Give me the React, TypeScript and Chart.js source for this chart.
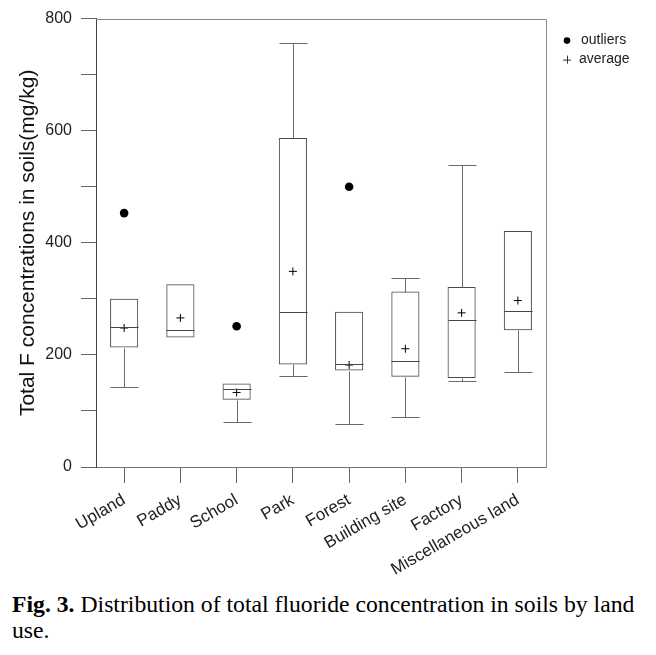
import React, { useEffect, useRef } from "react";
import { Chart, registerables } from "chart.js";

Chart.register(...registerables);

const categories = ["Upland", "Paddy", "School", "Park", "Forest", "Building site", "Factory", "Miscellaneous land"];
const whiskerMin = [142, 231, 81, 163, 76, 90, 153, 169];
const quartile1 = [213, 231, 120, 183, 172, 161, 159, 244];
const medians = [249, 245, 140, 276, 184, 190, 263, 278];
const quartile3 = [300, 326, 149, 587, 277, 313, 321, 421];
const whiskerMax = [300, 326, 149, 757, 277, 337, 538, 421];
const averages = [248, 266, 133, 349, 182, 211, 275, 297];
const outliers = [453, null, 251, null, 500, null, null, null];
const yTickValues = [0, 200, 400, 600, 800];
const legendLabels = ["outliers", "average"];

const SANS = "'Liberation Sans', Arial, sans-serif";

const boxPlugin = {
  id: "boxExtras",
  afterDatasetsDraw(chart: any) {
    const ctx = chart.ctx;
    const xs = chart.scales.x;
    const ys = chart.scales.y;
    const meta = chart.getDatasetMeta(0);
    ctx.save();
    ctx.lineWidth = 1;
    categories.forEach((_, i) => {
      const el = meta.data[i];
      const x = Math.round(xs.getPixelForValue(i)) + 0.5;
      const hw = el.width / 2;
      const yMin = Math.round(ys.getPixelForValue(whiskerMin[i])) + 0.5;
      const yQ1 = Math.round(ys.getPixelForValue(quartile1[i])) + 0.5;
      const yQ3 = Math.round(ys.getPixelForValue(quartile3[i])) + 0.5;
      const yMax = Math.round(ys.getPixelForValue(whiskerMax[i])) + 0.5;
      const yMed = Math.round(ys.getPixelForValue(medians[i])) + 0.5;
      ctx.strokeStyle = "#6a6a6a";
      ctx.beginPath();
      if (whiskerMax[i] > quartile3[i]) {
        ctx.moveTo(x, yQ3);
        ctx.lineTo(x, yMax);
        ctx.moveTo(x - hw, yMax);
        ctx.lineTo(x + hw, yMax);
      }
      if (whiskerMin[i] < quartile1[i]) {
        ctx.moveTo(x, yQ1);
        ctx.lineTo(x, yMin);
        ctx.moveTo(x - hw, yMin);
        ctx.lineTo(x + hw, yMin);
      }
      ctx.stroke();
      ctx.strokeStyle = "#444";
      ctx.beginPath();
      ctx.moveTo(x - hw, yMed);
      ctx.lineTo(x + hw, yMed);
      ctx.stroke();
    });
    // top and right frame
    const a = chart.chartArea;
    ctx.strokeStyle = "#8a8a8a";
    ctx.beginPath();
    ctx.moveTo(a.left, Math.round(a.top) + 0.5);
    ctx.lineTo(Math.round(a.right) + 0.5, Math.round(a.top) + 0.5);
    ctx.lineTo(Math.round(a.right) + 0.5, a.bottom);
    ctx.stroke();
    // legend
    const lx = a.right + 21;
    const ly1 = a.top + 22;
    const ly2 = a.top + 41;
    ctx.fillStyle = "#000";
    ctx.beginPath();
    ctx.arc(lx, ly1, 3.3, 0, Math.PI * 2);
    ctx.fill();
    ctx.strokeStyle = "#333";
    ctx.beginPath();
    ctx.moveTo(lx - 4, ly2 + 0.5);
    ctx.lineTo(lx + 4, ly2 + 0.5);
    ctx.moveTo(lx + 0.5, ly2 - 4);
    ctx.lineTo(lx + 0.5, ly2 + 4);
    ctx.stroke();
    ctx.fillStyle = "#222";
    ctx.font = `14px ${SANS}`;
    ctx.textBaseline = "middle";
    ctx.textAlign = "left";
    ctx.fillText(legendLabels[0], lx + 14, ly1);
    ctx.fillText(legendLabels[1], lx + 12, ly2);
    ctx.restore();
  },
};

export default function App() {
  const ref = useRef<HTMLCanvasElement | null>(null);
  useEffect(() => {
    if (!ref.current) return;
    const chart = new Chart(ref.current, {
      type: "bar",
      data: {
        labels: categories,
        datasets: [
          {
            type: "bar",
            data: categories.map((_, i) => [quartile1[i], quartile3[i]]) as any,
            backgroundColor: "rgba(0,0,0,0)",
            borderColor: "#4a4a4a",
            borderWidth: 1,
            borderSkipped: false,
            barPercentage: 0.5,
            categoryPercentage: 1,
          } as any,
          {
            type: "line",
            data: averages,
            showLine: false,
            pointStyle: "cross",
            pointRadius: 4,
            pointBorderWidth: 1,
            borderColor: "#000",
            backgroundColor: "#000",
          } as any,
          {
            type: "line",
            data: outliers,
            showLine: false,
            pointStyle: "circle",
            pointRadius: 4.3,
            pointBorderWidth: 0,
            borderColor: "#000",
            backgroundColor: "#000",
          } as any,
        ],
      },
      options: {
        responsive: false,
        animation: false,
        events: [],
        layout: { padding: { top: 16, right: 110, left: 0, bottom: 0 } },
        plugins: {
          legend: { display: false },
          tooltip: { enabled: false },
        },
        scales: {
          x: {
            type: "category",
            offset: true,
            grid: { display: true, drawOnChartArea: false, drawTicks: true, tickLength: 16, color: "#666", offset: false },
            border: { display: true, color: "#777" },
            ticks: {
              maxRotation: 30,
              minRotation: 30,
              autoSkip: false,
              padding: 7,
              color: "#222",
              font: { family: SANS, size: 17 },
            },
            afterFit: (s: any) => {
              s.height = 113;
            },
          },
          y: {
            type: "linear",
            min: 0,
            max: 800,
            grid: { display: true, drawOnChartArea: false, drawTicks: true, tickLength: 15, color: "#666" },
            border: { display: true, color: "#444" },
            ticks: {
              stepSize: 100,
              padding: 9,
              color: "#222",
              font: { family: SANS, size: 16 },
              callback: (v: any) => (yTickValues.includes(Number(v)) ? String(v) : ""),
            },
            title: {
              display: true,
              text: "Total F concentrations in soils(mg/kg)",
              color: "#111",
              font: { family: SANS, size: 21 },
              padding: { top: 16, bottom: 0 },
            },
            afterFit: (s: any) => {
              s.width = 96;
            },
          },
        },
      } as any,
      plugins: [boxPlugin],
    });
    return () => chart.destroy();
  }, []);

  return (
    <div style={{ position: "absolute", left: 0, top: 0, width: 656, height: 655, background: "#fff", overflow: "hidden" }}>
      <canvas ref={ref} width={656} height={580} style={{ position: "absolute", left: 0, top: 0, width: 656, height: 580 }} />
      <div
        style={{
          position: "absolute",
          left: 12,
          top: 591,
          width: 640,
          fontFamily: "'Liberation Serif', 'Times New Roman', serif",
          fontSize: 23.7,
          lineHeight: "26px",
          color: "#000",
        }}
      >
        <b>Fig. 3.</b> Distribution of total fluoride concentration in soils by land use.
      </div>
    </div>
  );
}
